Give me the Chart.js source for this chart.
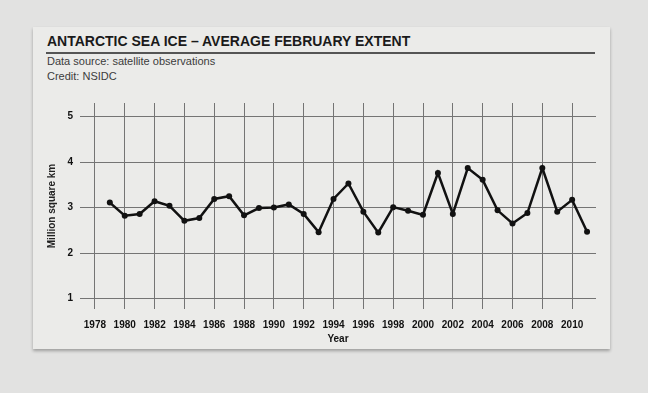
<!DOCTYPE html>
<html>
<head>
<meta charset="utf-8">
<script src="https://cdn.jsdelivr.net/npm/chart.js@4"></script>
<style>
    body {
        margin: 0;
        width: 648px;
        height: 393px;
        background: #e2e2e1;
        font-family: "Liberation Sans", Arial, sans-serif;
        position: relative;
        overflow: hidden;
    }
    .card {
        position: absolute;
        left: 33px;
        top: 27px;
        width: 577px;
        height: 322px;
        background: #ebebe9;
        box-shadow: 0 2px 3px rgba(0, 0, 0, 0.3);
    }
    .title {
        position: absolute;
        left: 47px;
        top: 33px;
        font-size: 14px;
        font-weight: bold;
        color: #1a1a1a;
    }
    .rule {
        position: absolute;
        left: 46px;
        top: 52px;
        width: 549px;
        height: 2px;
        background: #555;
    }
    .sub {
        position: absolute;
        left: 47px;
        font-size: 11px;
        color: #3c3c3c;
    }
    #chartBox {
        position: absolute;
        left: 40px;
        top: 90px;
        width: 570px;
        height: 258px;
    }
</style>
</head>
<body>
<div class="card"></div>
<div class="title">ANTARCTIC SEA ICE – AVERAGE FEBRUARY EXTENT</div>
<div class="rule"></div>
<div class="sub" style="top: 55px;">Data source: satellite observations</div>
<div class="sub" style="top: 70px;">Credit: NSIDC</div>
<div id="chartBox"><canvas id="myChart"></canvas></div>

<script>
// Data for the chart
const years = [1979, 1980, 1981, 1982, 1983, 1984, 1985, 1986, 1987, 1988, 1989,
    1990, 1991, 1992, 1993, 1994, 1995, 1996, 1997, 1998, 1999, 2000,
    2001, 2002, 2003, 2004, 2005, 2006, 2007, 2008, 2009, 2010, 2011];
const extent = [3.11, 2.82, 2.86, 3.14, 3.04, 2.71, 2.77, 3.19, 3.25, 2.83, 2.99,
    3.00, 3.07, 2.86, 2.46, 3.19, 3.53, 2.91, 2.45, 3.01, 2.93, 2.84,
    3.76, 2.86, 3.87, 3.61, 2.94, 2.65, 2.88, 3.87, 2.91, 3.17, 2.47];

// Tick labels
const yearTicks = [1978, 1980, 1982, 1984, 1986, 1988, 1990, 1992, 1994,
    1996, 1998, 2000, 2002, 2004, 2006, 2008, 2010];
const extentTicks = [1, 2, 3, 4, 5];

const gridColor = '#747474';
const tickFont = { family: '"Liberation Sans", Arial, sans-serif', size: 10, weight: 'bold' };

function createChart() {
    const ctx = document.getElementById('myChart').getContext('2d');
    new Chart(ctx, {
        type: 'line',
        data: {
            datasets: [{
                label: 'Antarctic sea ice extent',
                data: years.map((y, i) => ({ x: y, y: extent[i] })),
                borderColor: '#111',
                borderWidth: 2.5,
                pointRadius: 3,
                pointBackgroundColor: '#111',
                pointBorderWidth: 0,
                fill: false,
                tension: 0
            }]
        },
        options: {
            responsive: true,
            maintainAspectRatio: false,
            animation: false,
            layout: { padding: { left: 0, right: 14, top: 8, bottom: 0 } },
            plugins: {
                legend: { display: false },
                tooltip: { enabled: false }
            },
            scales: {
                x: {
                    type: 'linear',
                    min: 1977,
                    max: 2011.6,
                    afterBuildTicks: scale => { scale.ticks = yearTicks.map(v => ({ value: v })); },
                    afterFit: scale => { scale.height = 39; },
                    grid: { color: gridColor, lineWidth: 1, drawTicks: false },
                    border: { display: false },
                    ticks: {
                        color: '#111',
                        font: tickFont,
                        padding: 10,
                        maxRotation: 0,
                        autoSkip: false,
                        callback: v => String(v)
                    },
                    title: {
                        display: true,
                        text: 'Year',
                        color: '#111',
                        font: tickFont,
                        padding: { top: 0, bottom: 3 }
                    }
                },
                y: {
                    min: 0.77,
                    max: 5.3,
                    afterBuildTicks: scale => { scale.ticks = extentTicks.map(v => ({ value: v })); },
                    afterFit: scale => { scale.width = 40; },
                    grid: { color: gridColor, lineWidth: 1, drawTicks: false },
                    border: { display: false },
                    ticks: {
                        color: '#111',
                        font: tickFont,
                        padding: 7
                    },
                    title: {
                        display: true,
                        text: 'Million square km',
                        color: '#222',
                        font: tickFont,
                        padding: { top: 6, bottom: 0 }
                    }
                }
            }
        }
    });
}

window.onload = createChart;
</script>
</body>
</html>
